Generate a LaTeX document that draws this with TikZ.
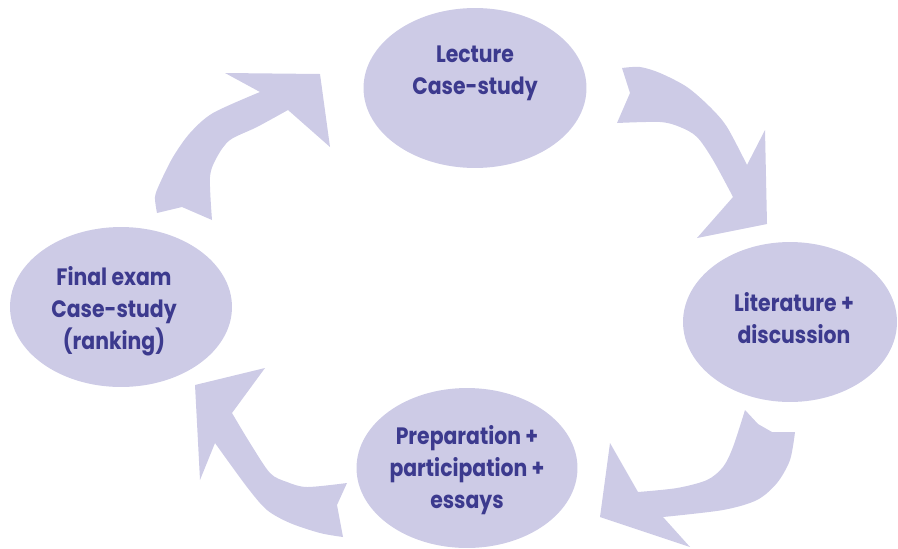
\documentclass[tikz,border=0pt]{standalone}
\usepackage{fontspec}
\setsansfont{Poppins}[FakeStretch=0.86]
\usepackage{tikz}
\usetikzlibrary{shapes.geometric}
\definecolor{phasefill}{RGB}{205,203,230}
\definecolor{phaseink}{RGB}{60,58,142}

\begin{document}
\begin{tikzpicture}[
    x=0.02cm, y=-0.02cm,
    phase/.style={ellipse, fill=phasefill, inner sep=0pt, minimum height=3.2cm},
    phasetext/.style={align=center, text=phaseink,
        font=\sffamily\bfseries\fontsize{13.5}{18.2}\selectfont},
    cyclearrow/.style={fill=phasefill}
]
    \useasboundingbox (0,0) rectangle (898,548);

    % Phases
    \node[phase, minimum width=4.46cm] (lecture) at (475,88) {};
    \node[phase, minimum width=4.28cm] (literature) at (790,322) {};
    \node[phase, minimum width=4.42cm] (preparation) at (467,468) {};
    \node[phase, minimum width=4.44cm] (exam) at (121,307) {};

    \node[phasetext] (lecture_txt) at (475,73) {Lecture\\Case-study};
    \node[phasetext] (literature_txt) at (794,318) {Literature +\\discussion};
    \node[phasetext] (preparation_txt) at (467,470) {Preparation +\\participation +\\essays};
    \node[phasetext] (exam_txt) at (114,311) {Final exam\\Case-study\\(ranking)};

    % Curved arrows between the phases
    \fill[cyclearrow] plot[smooth] coordinates {(157,213) (155,197) (160,183) (173,157) (190,133) (213,113) (260,92)}
        -- (225,73) -- (320,74) -- (330,147) -- (288,110)
        -- plot[smooth] coordinates {(288,110) (257,127) (230,140) (217,157) (210,177) (212,220)}
        -- (182,207) -- cycle;
    \fill[cyclearrow] plot[smooth] coordinates {(622,68) (640,67) (660,73) (687,87) (710,107) (727,127) (747,165)}
        -- (765,130) -- (767,224) -- (697,238) -- (733,197)
        -- plot[smooth] coordinates {(733,197) (713,160) (697,137) (680,127) (660,122) (617,123)}
        -- (630,93) -- cycle;
    \fill[cyclearrow] plot[smooth] coordinates {(795,432) (790,460) (777,483) (757,500) (723,510) (663,517)}
        -- (690,547) -- (600,517) -- (610,443) -- (638,492)
        -- plot[smooth] coordinates {(638,492) (677,488) (707,480) (723,467) (733,447) (745,410)}
        -- (758,424) -- (772,432) -- cycle;
    \fill[cyclearrow] plot[smooth] coordinates {(343,537) (320,533) (290,523) (267,510) (247,487) (215,443)}
        -- (200,480) -- (195,385) -- (265,368) -- (232,413)
        -- plot[smooth] coordinates {(232,413) (250,443) (270,473) (287,482) (307,487) (347,483)}
        -- (337,505) -- cycle;
\end{tikzpicture}
\end{document}
